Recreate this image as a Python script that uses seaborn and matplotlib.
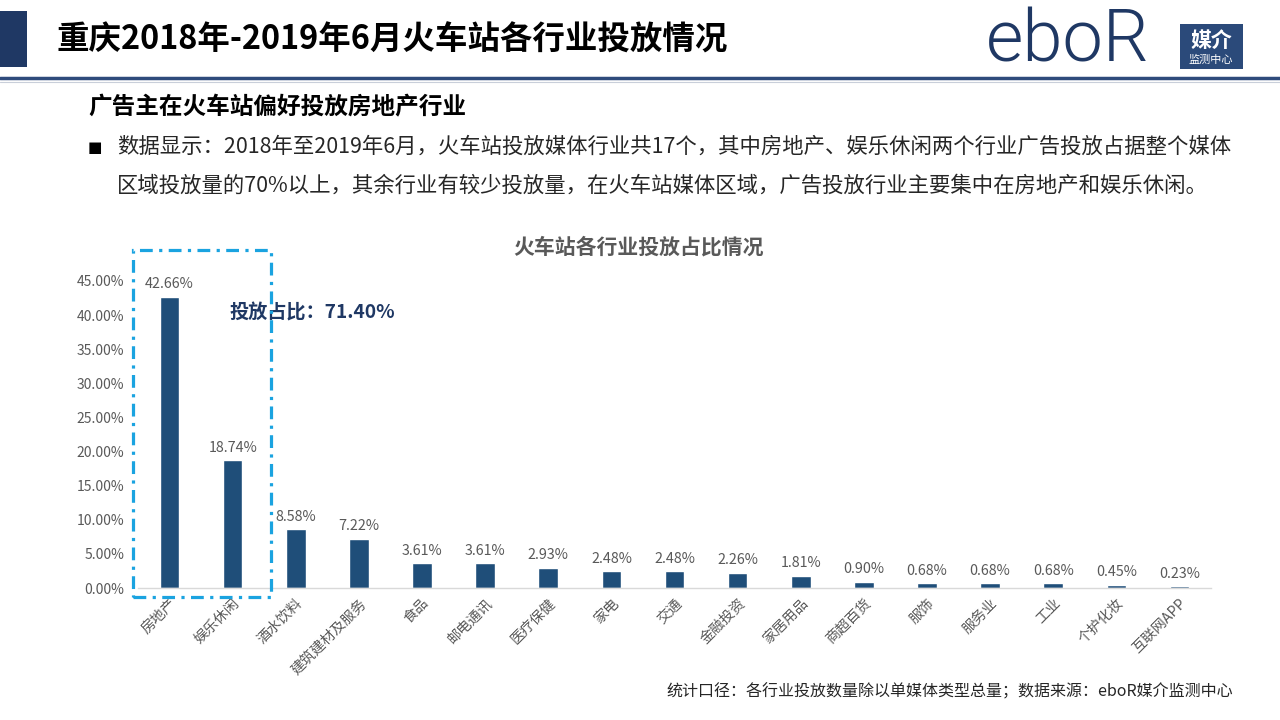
import matplotlib
matplotlib.use("Agg")
import matplotlib.pyplot as plt
import seaborn as sns
import pandas as pd
from matplotlib.patches import Rectangle
from matplotlib.lines import Line2D

categories = ["房地产", "娱乐休闲", "酒水饮料", "建筑建材及服务", "食品", "邮电通讯", "医疗保健",
              "家电", "交通", "金融投资", "家居用品", "商超百货", "服饰", "服务业", "工业",
              "个护化妆", "互联网APP"]
values = [42.66, 18.74, 8.58, 7.22, 3.61, 3.61, 2.93, 2.48, 2.48, 2.26, 1.81, 0.90, 0.68,
          0.68, 0.68, 0.45, 0.23]
yticks = [0, 5, 10, 15, 20, 25, 30, 35, 40, 45]

df = pd.DataFrame({"行业": categories, "占比": values})

sns.set_theme(style="white")
plt.rcParams['font.family'] = ['Noto Sans CJK SC', 'DejaVu Sans']

W, H = 1280, 720
fig = plt.figure(figsize=(12.8, 7.2), dpi=100)
fig.patch.set_facecolor("white")

def fx(x):
    return x / W

def fy(y):
    return 1 - y / H

ax = fig.add_axes([fx(138), fy(588), fx(1211) - fx(138), fy(281) - fy(588)])
ax.set_facecolor("none")
bar_color = "#1F4E79"
sns.barplot(data=df, x="行业", y="占比", color=bar_color, width=0.31, ax=ax, saturation=1)
ax.set_xlim(-0.5, len(categories) - 0.5)
ax.set_ylim(0, 45)
ax.set_yticks(yticks)
ax.set_yticklabels([f"{v:.2f}%" for v in yticks], fontsize=10, color="#595959")
ax.set_xticks(range(len(categories)))
ax.set_xticklabels(categories, rotation=45, ha="right", rotation_mode="anchor",
                   fontsize=10.3, color="#595959")
ax.tick_params(axis="x", length=0, pad=6)
ax.tick_params(axis="y", length=0, pad=10)
ax.set_xlabel("")
ax.set_ylabel("")
for s in ["top", "right", "left"]:
    ax.spines[s].set_visible(False)
ax.spines["bottom"].set_color("#D9D9D9")
ax.spines["bottom"].set_linewidth(1)
ax.grid(False)
ax.bar_label(ax.containers[0], labels=[f"{v:.2f}%" for v in values], padding=4,
             fontsize=10.3, color="#595959")

# dash-dot highlight box
fig.patches.append(Rectangle((fx(133), fy(597)), fx(271) - fx(133), fy(250) - fy(597),
                             transform=fig.transFigure, fill=False, edgecolor="#1AA3E0",
                             linewidth=2.3, linestyle=(0, (4, 2, 1, 2)), zorder=5))
fig.text(fx(230), fy(313), "投放占比：71.40%", fontsize=13.8, fontweight="bold",
         color="#1F3864", va="center", ha="left")

# chart title
fig.text(fx(639), fy(247), "火车站各行业投放占比情况", fontsize=15, fontweight="bold",
         color="#595959", ha="center", va="center")

# header
fig.patches.append(Rectangle((0, fy(67)), fx(27), fy(11) - fy(67), transform=fig.transFigure,
                             facecolor="#1F3864", edgecolor="none"))
fig.text(fx(57), fy(40), "重庆2018年-2019年6月火车站各行业投放情况", fontsize=23.4,
         fontweight="bold", color="black", ha="left", va="center")
fig.lines.append(Line2D([0, 1], [fy(78), fy(78)], transform=fig.transFigure,
                        color="#2F4B7C", linewidth=2.5))
fig.lines.append(Line2D([0, 1], [fy(81.5), fy(81.5)], transform=fig.transFigure,
                        color="#C9CFDA", linewidth=0.8))

# logo
fig.text(fx(986), fy(42), "eboR", fontsize=52, color="#1F3864", family="Roboto",
         fontweight=300, ha="left", va="center")
fig.patches.append(Rectangle((fx(1180), fy(69)), fx(63), fy(24) - fy(69), transform=fig.transFigure,
                             facecolor="#2B4A7A", edgecolor="none"))
fig.text(fx(1211), fy(40), "媒介", fontsize=15, fontweight="bold", color="white",
         ha="center", va="center", family="Noto Sans CJK SC")
fig.text(fx(1211), fy(60), "监测中心", fontsize=8, color="white",
         ha="center", va="center", family="Noto Sans CJK SC")

# subtitle and bullet text
fig.text(fx(88), fy(107), "广告主在火车站偏好投放房地产行业", fontsize=17, fontweight="bold",
         color="black", ha="left", va="center")
fig.text(fx(88), fy(147), "■", fontsize=11, color="black", ha="left", va="center",
         family="DejaVu Sans")
fig.text(fx(117), fy(147),
         "数据显示：2018年至2019年6月，火车站投放媒体行业共17个，其中房地产、娱乐休闲两个行业广告投放占据整个媒体",
         fontsize=15.4, color="#262626", ha="left", va="center")
fig.text(fx(117), fy(186),
         "区域投放量的70%以上，其余行业有较少投放量，在火车站媒体区域，广告投放行业主要集中在房地产和娱乐休闲。",
         fontsize=15.4, color="#262626", ha="left", va="center")

# footnote
fig.text(fx(1233), fy(692), "统计口径：各行业投放数量除以单媒体类型总量；数据来源：eboR媒介监测中心",
         fontsize=11.5, color="#262626", ha="right", va="center")

fig.savefig("out.png", dpi=100)
